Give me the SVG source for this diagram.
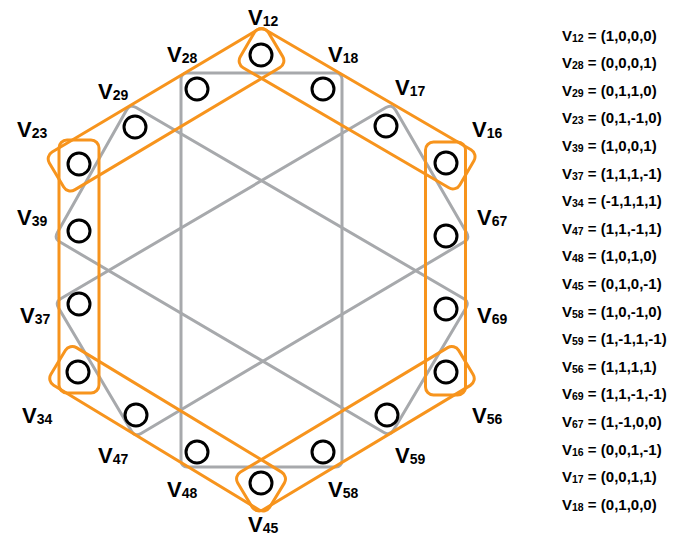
<svg xmlns="http://www.w3.org/2000/svg" width="687" height="539" viewBox="0 0 687 539">
<style>
.bg{fill:#ffffff}
.og{fill:none;stroke:#F7941D;stroke-width:3}
.gr{fill:none;stroke:#A7A9AC;stroke-width:3}
.nd{fill:#ffffff;stroke:#000000;stroke-width:3}
.lbl{font-family:"Liberation Sans",Arial,sans-serif;font-weight:bold;font-size:22px;fill:#000}
.sub{font-size:14px}
.lst{font-family:"Liberation Sans",Arial,sans-serif;font-weight:bold;font-size:15px;fill:#000}
.ls{font-size:10.5px}
</style>
<rect class="bg" x="0" y="0" width="687" height="539"/>
<g id="connectors">
  <g id="grey-bases">
    <rect class="gr" x="181" y="73" width="161" height="394" rx="6"/>
    <path class="gr" d="M136.05,107.53 Q130,104 126.56,110.1 L57.44,232.4 Q54,238.5 60.03,242.05 L383.97,432.45 Q390,436 393.57,429.98 L465.93,308.02 Q469.5,302 463.45,298.47 Z"/>
    <path class="gr" d="M385.97,107.55 Q392,104 395.51,110.06 L466.49,232.44 Q470,238.5 463.98,242.07 L141.02,433.43 Q135,437 131.43,430.98 L58.57,308.02 Q55,302 61.03,298.45 Z"/>
  </g>
  <g id="orange-bases">
    <rect class="og" transform="translate(261,55) rotate(30.27)" x="-17" y="-24" width="254.2" height="44" rx="8"/>
    <rect class="og" transform="translate(79,164) rotate(-30.78)" x="-25" y="-24" width="255" height="44" rx="8"/>
    <rect class="og" transform="translate(79,372) rotate(-90)" x="-21" y="-20" width="253" height="40" rx="8"/>
    <rect class="og" transform="translate(445.5,163) rotate(90)" x="-21" y="-20" width="253" height="40" rx="8"/>
    <rect class="og" transform="translate(446,372) rotate(149.03)" x="-22" y="-24" width="257.7" height="44" rx="8"/>
    <rect class="og" transform="translate(261,483) rotate(211.24)" x="-20" y="-24" width="256" height="44" rx="8"/>
  </g>
</g>
<g id="V12"><circle class="nd" cx="261" cy="55" r="11"/><text class="lbl" x="248" y="25">V<tspan class="sub" dy="1">12</tspan></text></g>
<g id="V28"><circle class="nd" cx="197" cy="89" r="11"/><text class="lbl" x="167" y="62">V<tspan class="sub" dy="1">28</tspan></text></g>
<g id="V18"><circle class="nd" cx="323" cy="89" r="11"/><text class="lbl" x="328" y="62">V<tspan class="sub" dy="1">18</tspan></text></g>
<g id="V29"><circle class="nd" cx="135" cy="127" r="11"/><text class="lbl" x="98" y="99">V<tspan class="sub" dy="1">29</tspan></text></g>
<g id="V17"><circle class="nd" cx="386" cy="126" r="11"/><text class="lbl" x="395" y="95">V<tspan class="sub" dy="1">17</tspan></text></g>
<g id="V23"><circle class="nd" cx="79" cy="164" r="11"/><text class="lbl" x="17" y="137">V<tspan class="sub" dy="1">23</tspan></text></g>
<g id="V16"><circle class="nd" cx="446" cy="163" r="11"/><text class="lbl" x="472" y="137">V<tspan class="sub" dy="1">16</tspan></text></g>
<g id="V39"><circle class="nd" cx="79" cy="231" r="11"/><text class="lbl" x="17" y="225">V<tspan class="sub" dy="1">39</tspan></text></g>
<g id="V67"><circle class="nd" cx="446" cy="236" r="11"/><text class="lbl" x="477" y="225">V<tspan class="sub" dy="1">67</tspan></text></g>
<g id="V37"><circle class="nd" cx="79" cy="304" r="11"/><text class="lbl" x="20" y="323">V<tspan class="sub" dy="1">37</tspan></text></g>
<g id="V69"><circle class="nd" cx="446" cy="309" r="11"/><text class="lbl" x="477" y="323">V<tspan class="sub" dy="1">69</tspan></text></g>
<g id="V34"><circle class="nd" cx="78" cy="372" r="11"/><text class="lbl" x="22" y="423">V<tspan class="sub" dy="1">34</tspan></text></g>
<g id="V56"><circle class="nd" cx="446" cy="372" r="11"/><text class="lbl" x="472" y="423">V<tspan class="sub" dy="1">56</tspan></text></g>
<g id="V47"><circle class="nd" cx="136" cy="415" r="11"/><text class="lbl" x="98" y="463">V<tspan class="sub" dy="1">47</tspan></text></g>
<g id="V59"><circle class="nd" cx="387" cy="415" r="11"/><text class="lbl" x="395" y="463">V<tspan class="sub" dy="1">59</tspan></text></g>
<g id="V48"><circle class="nd" cx="197" cy="452" r="11"/><text class="lbl" x="167" y="497">V<tspan class="sub" dy="1">48</tspan></text></g>
<g id="V58"><circle class="nd" cx="323" cy="452" r="11"/><text class="lbl" x="328" y="497">V<tspan class="sub" dy="1">58</tspan></text></g>
<g id="V45"><circle class="nd" cx="261" cy="483" r="11"/><text class="lbl" x="248" y="532">V<tspan class="sub" dy="1">45</tspan></text></g>
<g id="legend">
<text class="lst" x="562" y="40.5">V<tspan class="ls" dy="1">12</tspan><tspan dy="-1"> = (1,0,0,0)</tspan></text>
<text class="lst" x="562" y="68.1">V<tspan class="ls" dy="1">28</tspan><tspan dy="-1"> = (0,0,0,1)</tspan></text>
<text class="lst" x="562" y="95.7">V<tspan class="ls" dy="1">29</tspan><tspan dy="-1"> = (0,1,1,0)</tspan></text>
<text class="lst" x="562" y="123.3">V<tspan class="ls" dy="1">23</tspan><tspan dy="-1"> = (0,1,-1,0)</tspan></text>
<text class="lst" x="562" y="150.9">V<tspan class="ls" dy="1">39</tspan><tspan dy="-1"> = (1,0,0,1)</tspan></text>
<text class="lst" x="562" y="178.5">V<tspan class="ls" dy="1">37</tspan><tspan dy="-1"> = (1,1,1,-1)</tspan></text>
<text class="lst" x="562" y="206.1">V<tspan class="ls" dy="1">34</tspan><tspan dy="-1"> = (-1,1,1,1)</tspan></text>
<text class="lst" x="562" y="233.7">V<tspan class="ls" dy="1">47</tspan><tspan dy="-1"> = (1,1,-1,1)</tspan></text>
<text class="lst" x="562" y="261.3">V<tspan class="ls" dy="1">48</tspan><tspan dy="-1"> = (1,0,1,0)</tspan></text>
<text class="lst" x="562" y="288.9">V<tspan class="ls" dy="1">45</tspan><tspan dy="-1"> = (0,1,0,-1)</tspan></text>
<text class="lst" x="562" y="316.5">V<tspan class="ls" dy="1">58</tspan><tspan dy="-1"> = (1,0,-1,0)</tspan></text>
<text class="lst" x="562" y="344.1">V<tspan class="ls" dy="1">59</tspan><tspan dy="-1"> = (1,-1,1,-1)</tspan></text>
<text class="lst" x="562" y="371.7">V<tspan class="ls" dy="1">56</tspan><tspan dy="-1"> = (1,1,1,1)</tspan></text>
<text class="lst" x="562" y="399.3">V<tspan class="ls" dy="1">69</tspan><tspan dy="-1"> = (1,1,-1,-1)</tspan></text>
<text class="lst" x="562" y="426.9">V<tspan class="ls" dy="1">67</tspan><tspan dy="-1"> = (1,-1,0,0)</tspan></text>
<text class="lst" x="562" y="454.5">V<tspan class="ls" dy="1">16</tspan><tspan dy="-1"> = (0,0,1,-1)</tspan></text>
<text class="lst" x="562" y="482.1">V<tspan class="ls" dy="1">17</tspan><tspan dy="-1"> = (0,0,1,1)</tspan></text>
<text class="lst" x="562" y="509.7">V<tspan class="ls" dy="1">18</tspan><tspan dy="-1"> = (0,1,0,0)</tspan></text>
</g>
</svg>
